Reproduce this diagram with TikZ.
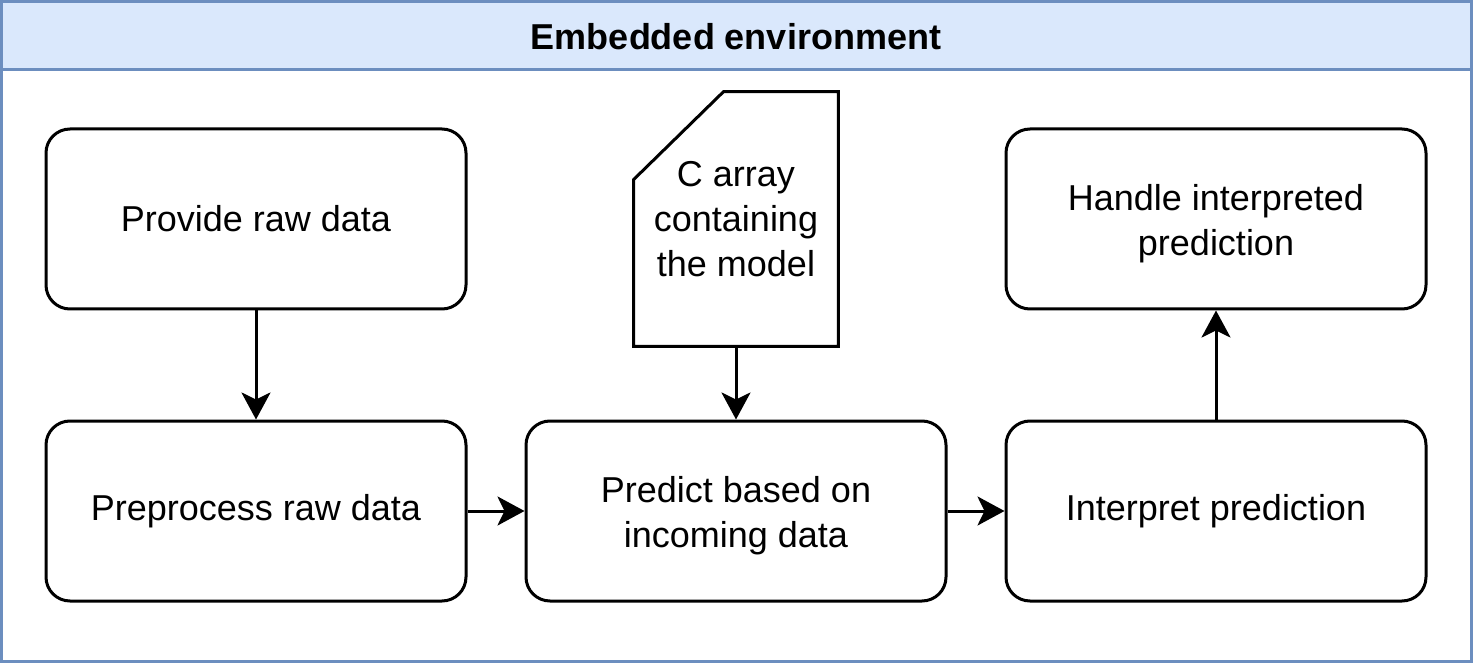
\documentclass[tikz,border=0pt]{standalone}
\usepackage{fontspec}
\setmainfont{Liberation Sans}
\usepackage{tikz}
\usetikzlibrary{arrows.meta,positioning,calc}
\definecolor{frameblue}{HTML}{6C8EBF}
\definecolor{headblue}{HTML}{DAE8FC}
\newcommand{\lowtext}[1]{\raisebox{-2.5pt}[\height][\depth]{\parbox{200pt}{\centering #1}}}
\tikzset{
  stepbox/.style={rectangle,rounded corners=12pt,draw=black,line width=1.5pt,
    minimum width=210pt,minimum height=90pt,align=center,
    font=\fontsize{18}{22.5}\selectfont},
  flow/.style={-{Stealth[length=13.5pt,width=14.5pt,inset=3.5pt]},line width=1.5pt},
}

\begin{document}
\begin{tikzpicture}[x=0.5pt,y=-0.5pt]
\useasboundingbox (0,0) rectangle (1473,663);
% frame and header
\fill[headblue] (1.5,1.5) rectangle (1471.5,70);
\draw[frameblue,line width=1.5pt] (1.5,70) -- (1471.5,70);
\draw[frameblue,line width=1.5pt] (1.5,1.5) rectangle (1471.5,661.5);
\node (title) at (736,37) {\fontsize{18}{22.5}\selectfont\bfseries Embedded environment};
%
\node (provide) [stepbox] at (256,219) {Provide raw data};
\node (prep) [stepbox] at (256,511) {Preprocess raw data};
\node (predict) [stepbox] at (736,511) {\lowtext{Predict based on\\incoming data}};
\node (interp) [stepbox] at (1216,511) {Interpret prediction};
\node (handle) [stepbox] at (1216,219) {\lowtext{Handle interpreted\\prediction}};
% model file
\node (card) [rectangle,minimum width=102pt,minimum height=127pt,align=center,
  font=\fontsize{18}{22.5}\selectfont] at (736,219) {C array\\containing\\the model};
\draw[line width=1.5pt,line join=miter] ($(card.north west)+(0,88)$) -- ($(card.north west)+(90,0)$)
  -- (card.north east) -- (card.south east) -- (card.south west) -- cycle;
%
\path[flow] (provide) edge (prep);
\path[flow] (card) edge (predict);
\path[flow] (prep) edge (predict);
\path[flow] (predict) edge (interp);
\path[flow] (interp) edge (handle);
\end{tikzpicture}
\end{document}
